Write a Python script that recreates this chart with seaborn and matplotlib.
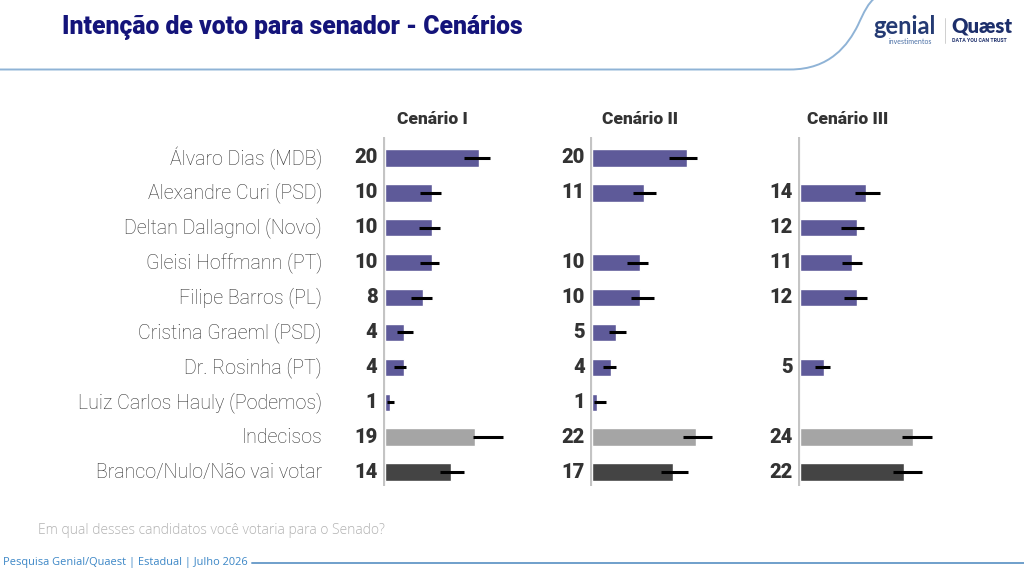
import numpy as np
import pandas as pd
import matplotlib
matplotlib.use("Agg")
import matplotlib.pyplot as plt
import seaborn as sns
from matplotlib import transforms
from matplotlib.path import Path
from matplotlib.patches import PathPatch

# ---------------- data ----------------
categories = ["Álvaro Dias (MDB)", "Alexandre Curi (PSD)", "Deltan Dallagnol (Novo)",
              "Gleisi Hoffmann (PT)", "Filipe Barros (PL)", "Cristina Graeml (PSD)",
              "Dr. Rosinha (PT)", "Luiz Carlos Hauly (Podemos)", "Indecisos",
              "Branco/Nulo/Não vai votar"]
scenarios = ["Cenário I", "Cenário II", "Cenário III"]
nan = np.nan
values_1 = [20, 10, 10, 10, 8, 4, 4, 1, 19, 14]
values_2 = [20, 11, nan, 10, 10, 5, 4, 1, 22, 17]
values_3 = [nan, 14, 12, 11, 12, nan, 5, nan, 24, 22]
err_lo_1 = [16.7, 7.4, 7.1, 7.4, 5.5, 2.5, 1.9, 0.4, 18.7, 11.7]
err_hi_1 = [22.3, 11.9, 11.6, 11.5, 9.9, 5.9, 4.4, 2.0, 24.9, 16.7]
err_lo_2 = [16.3, 8.6, nan, 7.4, 8.1, 3.5, 2.3, 0.4, 19.2, 14.5]
err_hi_2 = [22.1, 13.5, nan, 11.7, 13.0, 7.1, 5.0, 3.0, 25.3, 20.2]
err_lo_3 = [nan, 11.7, 8.6, 8.8, 9.3, nan, 3.2, nan, 21.7, 19.6]
err_hi_3 = [nan, 16.9, 13.6, 13.2, 14.3, nan, 6.4, nan, 28.0, 25.8]

title = "Intenção de voto para senador - Cenários"
question = "Em qual desses candidatos você votaria para o Senado?"
footer = "Pesquisa Genial/Quaest | Estadual | Julho 2026"

PURPLE = "#5e5a99"
LIGHT = "#a5a5a5"
DARK = "#444444"
palette = {c: PURPLE for c in categories}
palette["Indecisos"] = LIGHT
palette["Branco/Nulo/Não vai votar"] = DARK

sns.set_theme(style="white")
plt.rcParams["font.family"] = ["Roboto", "DejaVu Sans"]

W, H = 1024, 574
fig = plt.figure(figsize=(W / 100, H / 100), dpi=100)
fig.patch.set_facecolor("white")

# overlay for decorations (pixel coordinates)
deco = fig.add_axes([0, 0, 1, 1], zorder=0)
deco.set_xlim(0, W)
deco.set_ylim(H, 0)
deco.axis("off")
verts = [(0, 69.5), (790, 69.5), (830, 69.5), (848, 45), (858, 25),
         (864, 12), (868, 3), (876, -3)]
codes = [Path.MOVETO, Path.LINETO, Path.CURVE4, Path.CURVE4, Path.CURVE4,
         Path.CURVE4, Path.CURVE4, Path.CURVE4]
deco.add_patch(PathPatch(Path(verts, codes), fill=False, edgecolor="#8fb3d6", lw=1.4))
deco.plot([252, 1024], [563, 563], color="#6f9fcb", lw=1.4)
deco.plot([945, 945], [18, 43], color="#c8c8c8", lw=0.6)

fig.text(62 / W, 1 - 28 / H, title, fontsize=17.8, weight="heavy", color="#14147a",
         ha="left", va="center")
fig.text(873 / W, 1 - 26 / H, "genial", fontsize=17, weight="bold", color="#243a73",
         ha="left", va="center", family=["Lato", "DejaVu Sans"])
fig.text(889 / W, 1 - 41 / H, "investimentos", fontsize=5, color="#4a6fa5",
         ha="left", va="center", family=["Lato", "DejaVu Sans"])
fig.text(951 / W, 1 - 26 / H, "Quæst", fontsize=14.5, weight="heavy", color="#1d2f6b",
         ha="left", va="center", family=["Lato", "DejaVu Sans"])
fig.text(952 / W, 1 - 41 / H, "DATA YOU CAN TRUST", fontsize=3.8, weight="bold",
         color="#1d2f6b", ha="left", va="center")
fig.text(38 / W, 1 - 530 / H, question, fontsize=10, color="#b2b2b2", ha="left",
         va="center", family=["Open Sans", "DejaVu Sans"], weight="light")
fig.text(3 / W, 1 - 562 / H, footer, fontsize=7.9, color="#3b86c6", ha="left",
         va="center", family=["Open Sans", "DejaVu Sans"])

PX = 4.72          # pixels per percentage unit
zeros = [385, 592.3, 800]
XMIN, XMAX = -0.5, 32
TOP, BOT = 137, 486
vals = [values_1, values_2, values_3]
los = [err_lo_1, err_lo_2, err_lo_3]
his = [err_hi_1, err_hi_2, err_hi_3]

for k in range(3):
    left = zeros[k] + XMIN * PX
    width = (XMAX - XMIN) * PX
    ax = fig.add_axes([left / W, 1 - BOT / H, width / W, (BOT - TOP) / H], zorder=2)
    ax.patch.set_alpha(0)
    df = pd.DataFrame({"cat": categories, "val": vals[k],
                       "lo": los[k], "hi": his[k]})
    df = df.dropna()
    sns.barplot(data=df, y="cat", x="val", order=categories, hue="cat",
                palette=palette, orient="h", width=0.5, errorbar=None,
                legend=False, saturation=1, ax=ax)
    ypos = [categories.index(c) for c in df["cat"]]
    ax.hlines(ypos, df["lo"], df["hi"], color="black", lw=2.2, zorder=5)
    for y, v in zip(ypos, df["val"]):
        ax.text(-1.6, y, f"{int(v)}", ha="right", va="center", fontsize=14.5,
                weight="heavy", color="#333333")
    ax.axvline(-0.42, color="#c4c4c4", lw=2.3, zorder=1)
    ax.set_xlim(XMIN, XMAX)
    ax.set_ylim(9.4, -0.6)
    ax.axis("off")
    hdr_tr = transforms.blended_transform_factory(ax.transData, fig.transFigure)
    ax.text(10, 1 - 119 / H, scenarios[k], transform=hdr_tr, ha="center",
            va="center", fontsize=12.5, weight="heavy", color="#333333")
    if k == 0:
        lab_tr = transforms.blended_transform_factory(fig.transFigure, ax.transData)
        for i, c in enumerate(categories):
            ax.text(322 / W, i, c, transform=lab_tr, ha="right", va="center",
                    fontsize=14.1, color="#333333", weight="light")

fig.savefig("out.png", dpi=100, facecolor="white")
